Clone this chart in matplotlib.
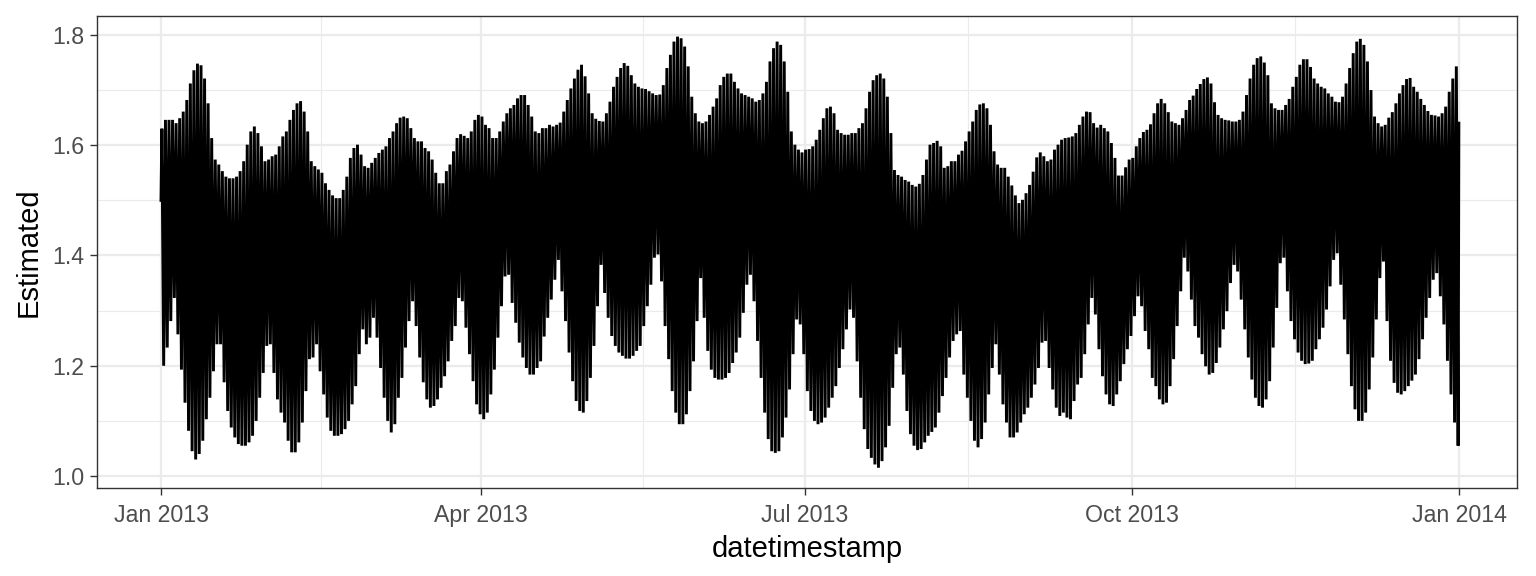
import matplotlib
matplotlib.use("Agg")
import matplotlib.pyplot as plt
import matplotlib.dates as mdates
import pandas as pd

plt.rcParams['font.family'] = ['Liberation Sans', 'DejaVu Sans']

# ---- data: per-day high and low of the estimated series ----
start_date = "2013-01-01"
first_value = 1.50
last_value = 1.64

daily_high = [
    1.630, 1.646, 1.646, 1.646, 1.640, 1.649, 1.661, 1.682, 1.712, 1.736,
    1.748, 1.745, 1.721, 1.676, 1.613, 1.574, 1.565, 1.553, 1.543, 1.540,
    1.540, 1.543, 1.553, 1.571, 1.601, 1.625, 1.634, 1.622, 1.598, 1.571,
    1.574, 1.580, 1.583, 1.598, 1.616, 1.625, 1.646, 1.664, 1.676, 1.680,
    1.661, 1.625, 1.571, 1.562, 1.556, 1.550, 1.531, 1.519, 1.509, 1.504,
    1.504, 1.519, 1.543, 1.577, 1.595, 1.601, 1.583, 1.562, 1.559, 1.568,
    1.577, 1.586, 1.592, 1.598, 1.613, 1.625, 1.640, 1.650, 1.652, 1.649,
    1.631, 1.613, 1.607, 1.607, 1.595, 1.589, 1.574, 1.550, 1.531, 1.531,
    1.553, 1.565, 1.589, 1.613, 1.620, 1.617, 1.613, 1.625, 1.646, 1.655,
    1.652, 1.637, 1.631, 1.613, 1.613, 1.625, 1.643, 1.658, 1.667, 1.673,
    1.685, 1.691, 1.691, 1.673, 1.652, 1.625, 1.622, 1.631, 1.631, 1.637,
    1.634, 1.637, 1.641, 1.661, 1.682, 1.703, 1.721, 1.737, 1.746, 1.725,
    1.694, 1.658, 1.648, 1.644, 1.643, 1.658, 1.679, 1.706, 1.724, 1.740,
    1.749, 1.744, 1.727, 1.712, 1.706, 1.703, 1.702, 1.698, 1.694, 1.691,
    1.692, 1.709, 1.740, 1.764, 1.788, 1.797, 1.794, 1.779, 1.743, 1.688,
    1.658, 1.643, 1.640, 1.643, 1.655, 1.670, 1.685, 1.709, 1.724, 1.730,
    1.730, 1.715, 1.703, 1.694, 1.691, 1.688, 1.685, 1.679, 1.682, 1.694,
    1.715, 1.752, 1.776, 1.788, 1.782, 1.752, 1.697, 1.625, 1.601, 1.592,
    1.587, 1.592, 1.593, 1.598, 1.610, 1.628, 1.649, 1.667, 1.670, 1.658,
    1.628, 1.622, 1.619, 1.619, 1.622, 1.622, 1.631, 1.640, 1.667, 1.697,
    1.718, 1.727, 1.730, 1.721, 1.688, 1.622, 1.555, 1.546, 1.543, 1.537,
    1.534, 1.528, 1.525, 1.530, 1.546, 1.574, 1.601, 1.604, 1.608, 1.598,
    1.559, 1.562, 1.571, 1.571, 1.583, 1.590, 1.607, 1.625, 1.643, 1.664,
    1.674, 1.676, 1.667, 1.637, 1.589, 1.565, 1.559, 1.559, 1.543, 1.527,
    1.509, 1.495, 1.501, 1.513, 1.528, 1.552, 1.578, 1.587, 1.580, 1.571,
    1.574, 1.592, 1.601, 1.610, 1.613, 1.614, 1.616, 1.622, 1.637, 1.652,
    1.661, 1.660, 1.640, 1.632, 1.637, 1.631, 1.625, 1.604, 1.577, 1.545,
    1.545, 1.560, 1.574, 1.577, 1.598, 1.613, 1.624, 1.628, 1.638, 1.658,
    1.676, 1.684, 1.676, 1.660, 1.643, 1.640, 1.637, 1.649, 1.664, 1.682,
    1.690, 1.702, 1.711, 1.720, 1.723, 1.712, 1.678, 1.655, 1.649, 1.646,
    1.645, 1.643, 1.643, 1.646, 1.661, 1.691, 1.721, 1.746, 1.758, 1.761,
    1.750, 1.727, 1.676, 1.667, 1.664, 1.664, 1.673, 1.684, 1.706, 1.724,
    1.746, 1.756, 1.756, 1.742, 1.721, 1.712, 1.706, 1.703, 1.694, 1.688,
    1.679, 1.678, 1.688, 1.712, 1.740, 1.767, 1.788, 1.793, 1.782, 1.752,
    1.700, 1.652, 1.640, 1.634, 1.637, 1.650, 1.660, 1.676, 1.694, 1.709,
    1.720, 1.722, 1.706, 1.697, 1.684, 1.673, 1.662, 1.655, 1.654, 1.652,
    1.658, 1.670, 1.697, 1.721, 1.743,
]

daily_low = [
    1.200, 1.233, 1.281, 1.323, 1.257, 1.193, 1.133, 1.082, 1.045, 1.030,
    1.040, 1.064, 1.103, 1.142, 1.190, 1.239, 1.239, 1.170, 1.118, 1.088,
    1.070, 1.058, 1.055, 1.055, 1.061, 1.073, 1.100, 1.142, 1.187, 1.236,
    1.239, 1.187, 1.139, 1.115, 1.097, 1.064, 1.043, 1.043, 1.061, 1.097,
    1.154, 1.212, 1.215, 1.239, 1.190, 1.148, 1.106, 1.082, 1.073, 1.073,
    1.076, 1.085, 1.100, 1.130, 1.163, 1.221, 1.266, 1.239, 1.251, 1.287,
    1.251, 1.196, 1.142, 1.100, 1.079, 1.094, 1.142, 1.178, 1.233, 1.281,
    1.317, 1.272, 1.215, 1.170, 1.139, 1.124, 1.127, 1.139, 1.160, 1.181,
    1.208, 1.245, 1.272, 1.323, 1.317, 1.269, 1.221, 1.172, 1.130, 1.112,
    1.103, 1.115, 1.148, 1.193, 1.251, 1.308, 1.362, 1.365, 1.314, 1.278,
    1.242, 1.215, 1.196, 1.184, 1.184, 1.196, 1.208, 1.253, 1.287, 1.320,
    1.356, 1.392, 1.335, 1.281, 1.224, 1.172, 1.136, 1.118, 1.115, 1.136,
    1.178, 1.236, 1.308, 1.383, 1.332, 1.287, 1.254, 1.236, 1.224, 1.218,
    1.213, 1.213, 1.218, 1.227, 1.236, 1.272, 1.308, 1.347, 1.396, 1.402,
    1.353, 1.272, 1.212, 1.154, 1.115, 1.094, 1.094, 1.112, 1.154, 1.208,
    1.281, 1.359, 1.287, 1.227, 1.193, 1.178, 1.175, 1.175, 1.178, 1.187,
    1.205, 1.224, 1.251, 1.296, 1.347, 1.365, 1.317, 1.245, 1.178, 1.115,
    1.067, 1.045, 1.042, 1.045, 1.070, 1.106, 1.157, 1.221, 1.284, 1.275,
    1.221, 1.154, 1.118, 1.100, 1.094, 1.097, 1.106, 1.124, 1.142, 1.163,
    1.196, 1.230, 1.266, 1.302, 1.287, 1.208, 1.142, 1.085, 1.049, 1.033,
    1.021, 1.015, 1.027, 1.052, 1.091, 1.160, 1.221, 1.233, 1.184, 1.118,
    1.076, 1.055, 1.047, 1.049, 1.061, 1.073, 1.080, 1.088, 1.115, 1.145,
    1.178, 1.215, 1.245, 1.257, 1.263, 1.184, 1.142, 1.100, 1.064, 1.052,
    1.067, 1.097, 1.148, 1.196, 1.239, 1.184, 1.130, 1.097, 1.070, 1.070,
    1.079, 1.097, 1.112, 1.124, 1.142, 1.166, 1.196, 1.242, 1.245, 1.196,
    1.157, 1.124, 1.109, 1.115, 1.106, 1.103, 1.136, 1.166, 1.178, 1.221,
    1.275, 1.323, 1.293, 1.230, 1.181, 1.148, 1.130, 1.127, 1.148, 1.172,
    1.203, 1.230, 1.254, 1.290, 1.326, 1.308, 1.263, 1.230, 1.178, 1.163,
    1.139, 1.130, 1.133, 1.163, 1.212, 1.272, 1.335, 1.396, 1.371, 1.320,
    1.272, 1.251, 1.221, 1.199, 1.184, 1.187, 1.205, 1.233, 1.266, 1.299,
    1.350, 1.383, 1.371, 1.320, 1.266, 1.215, 1.175, 1.142, 1.127, 1.124,
    1.139, 1.172, 1.233, 1.305, 1.386, 1.396, 1.335, 1.281, 1.248, 1.224,
    1.209, 1.203, 1.204, 1.209, 1.230, 1.248, 1.269, 1.302, 1.344, 1.392,
    1.404, 1.347, 1.284, 1.221, 1.163, 1.121, 1.100, 1.100, 1.115, 1.157,
    1.215, 1.284, 1.359, 1.389, 1.281, 1.209, 1.169, 1.151, 1.148, 1.154,
    1.163, 1.173, 1.184, 1.212, 1.248, 1.287, 1.323, 1.356, 1.368, 1.326,
    1.275, 1.209, 1.148, 1.097, 1.055,
]

x_breaks = ["2013-01-01", "2013-04-01", "2013-07-01", "2013-10-01", "2014-01-01"]
y_breaks = [1.0, 1.2, 1.4, 1.6, 1.8]

# build the timeline: high in the morning, low in the evening of each day
days = pd.date_range(start_date, periods=len(daily_high), freq="D")
times = [pd.Timestamp(start_date)]
values = [first_value]
for d, hi, lo in zip(days, daily_high, daily_low):
    times += [d + pd.Timedelta(hours=6), d + pd.Timedelta(hours=18)]
    values += [hi, lo]
times.append(days[-1] + pd.Timedelta(hours=23))
values.append(last_value)

# ---- figure (theme_bw look) ----
W, H = 1536, 576
fig = plt.figure(figsize=(W / 100, H / 100), dpi=100)
ax = fig.add_axes([97 / W, 1 - 488 / H, (1517 - 97) / W, (488 - 16) / H])

ax.plot(times, values, color='black', linewidth=2.1, solid_joinstyle='miter')

major_x = [mdates.date2num(pd.Timestamp(s)) for s in x_breaks]
minor_x = [(a + b) / 2 for a, b in zip(major_x[:-1], major_x[1:])]
ax.set_xticks(major_x)
ax.set_xticks(minor_x, minor=True)
ax.xaxis.set_major_formatter(mdates.DateFormatter('%b %Y'))
ax.set_yticks(y_breaks)
ax.set_yticks([(a + b) / 2 for a, b in zip(y_breaks[:-1], y_breaks[1:])], minor=True)
ax.set_yticklabels([f'{v:.1f}' for v in y_breaks])

px_per_day = (1459 - 161) / 365
ax.set_xlim(major_x[0] - (161 - 97) / px_per_day, major_x[-1] + (1517 - 1459) / px_per_day)
ax.set_ylim(1.0 - 12 / 552.5, 1.8 + 19 / 552.5)

ax.set_axisbelow(True)
ax.grid(which='major', color='#EBEBEB', linewidth=1.6)
ax.grid(which='minor', color='#EBEBEB', linewidth=0.8)
for s in ax.spines.values():
    s.set_color('#333333')
    s.set_linewidth(1.0)
ax.tick_params(which='major', length=5, width=1.0, color='#333333',
               labelcolor='#4D4D4D', labelsize=16.7, pad=4)
ax.tick_params(axis='x', which='major', pad=6.5)
ax.tick_params(which='minor', length=0)

ax.set_xlabel('datetimestamp', fontsize=21, labelpad=6)
ax.set_ylabel('Estimated', fontsize=21, labelpad=7)

fig.savefig('out.png', dpi=100)
